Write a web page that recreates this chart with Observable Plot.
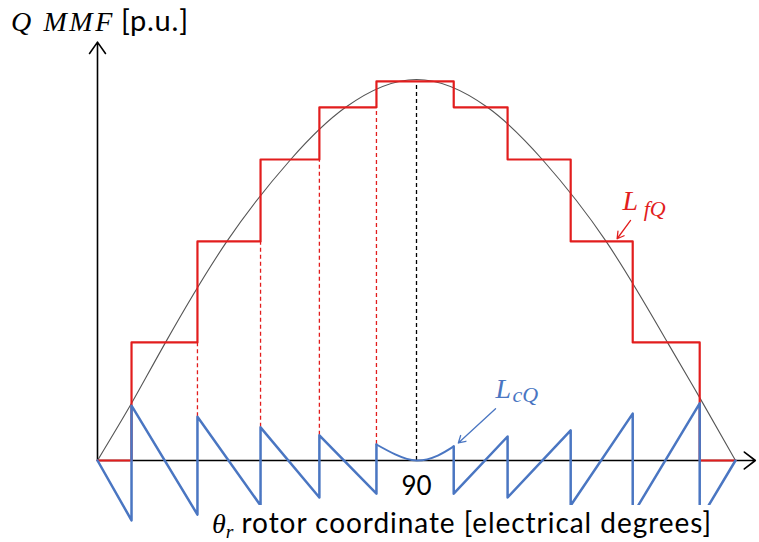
<!DOCTYPE html>
<html>
<head>
<meta charset="utf-8">
<script src="https://cdn.jsdelivr.net/npm/d3@7"></script>
<script src="https://cdn.jsdelivr.net/npm/@observablehq/plot@0.6"></script>
<style>
  body { margin: 0; background: #fff; }
  #wrap { position: relative; width: 759px; height: 542px; overflow: hidden; background: #fff; }
  #wrap svg { position: absolute; left: 0; top: 0; overflow: visible; }
  .cap { position: absolute; background: #fff; white-space: nowrap; color: #000; }
  .math { font-family: "Liberation Serif", "DejaVu Serif", serif; font-style: italic; }
  .sans { font-family: Lato, "Open Sans", sans-serif; }
  #ylab { left: 11px; top: 1px; font-size: 28px; line-height: 38px; }
  #ylab .math { letter-spacing: 2.6px; }
  #ylab .sans { font-size: 29px; letter-spacing: 0.8px; margin-left: 6px; }
  #xlab { left: 205px; top: 505px; width: 545px; height: 37px; font-size: 28px; line-height: 34px; padding-left: 7px; box-sizing: border-box; }
  #xlab .sans { letter-spacing: 0.95px; }
  sub { font-size: 0.7em; vertical-align: -0.25em; }
</style>
</head>
<body>
<div id="wrap">
  <div id="ylab" class="cap"><span class="math">Q MMF</span><span class="sans">[p.u.]</span></div>
  <div id="xlab" class="cap"><span class="math">θ<sub>r</sub></span><span class="sans"> rotor coordinate [electrical degrees]</span></div>
</div>
<script>
// Field winding MMF L_fQ: step edges (electrical degrees) and the level held after each edge (p.u.)
const stepEdges  = [0, 9.6, 28.2, 46.0, 62.6, 78.7, 100.5, 115.7, 133.5, 151.0, 169.9, 180];
const stepLevels = [0, 0.310, 0.575, 0.790, 0.927, 0.995, 0.927, 0.790, 0.575, 0.310, 0, 0];

// Fundamental (sinusoidal) Q-axis MMF
const sineDeg = [0, 9.6, 19.2, 36.5, 54.5, 70.0, 90, 110.0, 125.5, 143.5, 160.8, 169.9, 180];
const sinePu  = [0, 0.150, 0.310, 0.575, 0.790, 0.927, 1.0, 0.927, 0.790, 0.575, 0.310, 0.165, 0];

// Damper-cage MMF L_cQ, left teeth, the arc around 90°, right teeth
const cqLeftDeg  = [0, 9.6, 9.6, 28.2, 28.2, 46.0, 46.0, 62.6, 62.6, 78.7, 78.7];
const cqLeftPu   = [0, -0.157, 0.144, -0.142, 0.115, -0.118, 0.087, -0.097, 0.066, -0.087, 0.042];
const cqArcDeg   = [78.7, 84.0, 90, 96.0, 100.5];
const cqArcPu    = [0.042, 0.016, 0, 0.013, 0.037];
const cqRightDeg = [100.5, 100.5, 115.7, 115.7, 133.5, 133.5, 151.0, 151.0, 169.9, 169.9, 180];
const cqRightPu  = [0.037, -0.087, 0.063, -0.097, 0.079, -0.118, 0.123, -0.142, 0.150, -0.157, 0];

// Dashed drop lines at the inner step edges: from the cage tooth tip up to the step
const guideDeg  = [28.2, 46.0, 62.6, 78.7];
const guideLow  = [0.115, 0.087, 0.066, 0.042];
const guideHigh = [0.310, 0.575, 0.790, 0.927];

// Axis extents (arrow tips) and the 90° tick
const xAxisEnd = 185.6;
const yAxisEnd = 1.098;
const tickDeg = [90];
const tickLabels = ["90"];

const RED = "#e21d1d";
const BLUE = "#4a76c2";
const GREY = "#555555";

const rows = (xs, ys) => xs.map((x, i) => ({x, y: ys[i]}));
const serif = "'Liberation Serif', 'DejaVu Serif', serif";

const chart = Plot.plot({
  width: 759,
  height: 542,
  x: {domain: [0, 180], range: [97, 735], axis: null},
  y: {domain: [0, 1], range: [460, 79], axis: null},
  marks: [
    // axes with open arrow heads
    Plot.arrow([0], {x1: 0, y1: 0, x2: xAxisEnd, y2: 0, stroke: "#000", strokeWidth: 1.6, headLength: 13, headAngle: 75}),
    Plot.arrow([0], {x1: 0, y1: 0, x2: 0, y2: yAxisEnd, stroke: "#000", strokeWidth: 1.6, headLength: 13, headAngle: 70}),
    // fundamental
    Plot.line(rows(sineDeg, sinePu), {x: "x", y: "y", curve: "natural", stroke: GREY, strokeWidth: 1.1}),
    // dashed guides
    Plot.ruleX(guideDeg.map((x, i) => ({x, y1: guideLow[i], y2: guideHigh[i]})),
      {x: "x", y1: "y1", y2: "y2", stroke: RED, strokeWidth: 1.3, strokeDasharray: "4,3"}),
    Plot.ruleX(tickDeg, {x: d => d, y1: 0, y2: stepLevels[5], stroke: "#000", strokeWidth: 1.3, strokeDasharray: "4,3"}),
    // field winding staircase
    Plot.line(rows(stepEdges, stepLevels), {x: "x", y: "y", curve: "step-after", stroke: RED, strokeWidth: 2.2}),
    // damper cage sawtooth
    Plot.line(rows(cqLeftDeg, cqLeftPu), {x: "x", y: "y", stroke: BLUE, strokeWidth: 2.5}),
    Plot.line(rows(cqArcDeg, cqArcPu), {x: "x", y: "y", curve: "natural", stroke: BLUE, strokeWidth: 2}),
    Plot.line(rows(cqRightDeg, cqRightPu), {x: "x", y: "y", stroke: BLUE, strokeWidth: 2.5}),
    // tick label
    Plot.text(tickDeg, {x: d => d, y: 0, text: (d, i) => tickLabels[i], dy: 26, fontSize: 26,
      fontFamily: "Lato, sans-serif", fill: "#000", textAnchor: "middle"}),
    // curve labels with pointer arrows
    Plot.text(["L"], {x: 148.1, y: 0.681, text: d => d, fontSize: 28, fontFamily: serif, fontStyle: "italic", fill: RED, textAnchor: "start"}),
    Plot.text(["fQ"], {x: 154.1, y: 0.659, text: d => d, fontSize: 22, fontFamily: serif, fontStyle: "italic", fill: RED, textAnchor: "start"}),
    Plot.arrow([0], {x1: 150.4, y1: 0.630, x2: 146.6, y2: 0.582, stroke: RED, strokeWidth: 1.3, headLength: 9, headAngle: 60}),
    Plot.text(["L"], {x: 112.3, y: 0.188, text: d => d, fontSize: 28, fontFamily: serif, fontStyle: "italic", fill: BLUE, textAnchor: "start"}),
    Plot.text(["cQ"], {x: 117.1, y: 0.171, text: d => d, fontSize: 22, fontFamily: serif, fontStyle: "italic", fill: BLUE, textAnchor: "start"}),
    Plot.arrow([0], {x1: 112.3, y1: 0.136, x2: 101.8, y2: 0.046, stroke: BLUE, strokeWidth: 1.3, headLength: 9, headAngle: 60})
  ]
});

document.getElementById("wrap").prepend(chart);
</script>
</body>
</html>
